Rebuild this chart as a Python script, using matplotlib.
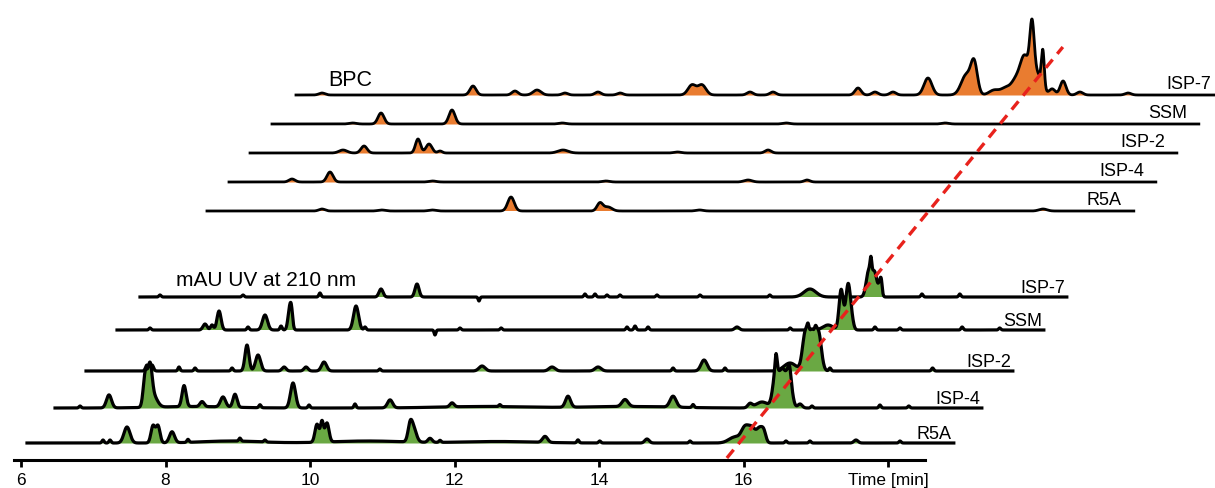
"""Stacked BPC / UV-210 nm chromatograms of five samples, staggered in x and y."""

import matplotlib
matplotlib.use("Agg")
import matplotlib.pyplot as plt
import numpy as np

plt.rcParams["font.family"] = ["Liberation Sans", "DejaVu Sans"]

SAMPLES = ["R5A", "ISP-4", "ISP-2", "SSM", "ISP-7"]   # front -> back

# peaks: (retention time [min], height, sigma [min])
UV_R5A = [
    (7.135, 3, 0.015), (7.232, 3, 0.015), (7.467, 16, 0.042), (7.827, 17, 0.028),
    (7.896, 17, 0.028), (8.090, 11, 0.035), (8.311, 3, 0.015), (8.9, 2, 0.4),
    (9.03, 3, 0.015), (9.377, 2, 0.015), (10.097, 18, 0.028), (10.166, 20, 0.021),
    (10.235, 19, 0.028), (10.8, 2, 0.5), (11.384, 12, 0.028), (11.426, 15, 0.042),
    (11.661, 4, 0.028), (11.80, 2, 0.015), (12.6, 1.5, 0.5), (13.253, 6, 0.035),
    (13.709, 3, 0.015), (14.01, 2, 0.015), (14.664, 4, 0.03), (15.26, 2, 0.015),
    (15.882, 6, 0.083), (16.021, 14, 0.05), (16.118, 14, 0.05), (16.228, 14, 0.042),
    (16.284, 8, 0.028), (16.588, 2, 0.015), (16.92, 2, 0.015), (17.557, 3, 0.028),
    (18.166, 2, 0.015),
]
UV_ISP4 = [
    (6.429, 2, 0.015), (6.830, 13, 0.035), (7.333, 33, 0.028), (7.398, 34, 0.028),
    (7.44, 12, 0.055), (7.869, 21, 0.028), (8.0, 1.5, 0.5), (8.118, 5, 0.028),
    (8.408, 10, 0.035), (8.574, 13, 0.028), (8.92, 3, 0.015), (9.377, 25, 0.035),
    (9.599, 3, 0.015), (10.235, 4, 0.015), (10.72, 8, 0.035), (11.578, 4, 0.028),
    (12.0, 1.5, 0.6), (12.24, 2, 0.015), (13.183, 11, 0.035), (13.972, 7, 0.042),
    (14.0, 1.5, 0.6), (14.637, 11, 0.042), (14.914, 3, 0.015), (15.702, 4, 0.03),
    (15.869, 6, 0.083), (16.06, 36, 0.04), (16.15, 34, 0.04), (16.24, 36, 0.04),
    (16.062, 15, 0.014), (16.25, 6, 0.014), (16.394, 4, 0.03), (16.56, 2, 0.015),
    (17.5, 3, 0.015), (17.9, 2, 0.015),
]
UV_ISP2 = [
    (6.927, 6, 0.02), (6.997, 6, 0.02), (7.370, 4, 0.015), (7.592, 3, 0.015),
    (8.104, 3, 0.015), (8.311, 26, 0.028), (8.464, 16, 0.035), (8.824, 4, 0.028),
    (9.128, 4, 0.028), (9.377, 9, 0.035), (10.15, 2, 0.015), (11.564, 5, 0.042),
    (12.533, 4, 0.042), (13.170, 4, 0.042), (14.208, 3, 0.015), (14.637, 11, 0.042),
    (14.927, 3, 0.015), (15.827, 8, 0.083), (16.04, 38, 0.04), (16.13, 36, 0.04),
    (16.22, 38, 0.04), (16.076, 8, 0.014), (16.18, 6, 0.014), (16.38, 3, 0.015),
    (17.8, 3, 0.015),
]
UV_SSM = [
    (6.54, 2, 0.015), (7.301, 6, 0.028), (7.398, 5, 0.02), (7.495, 19, 0.028),
    (7.896, 3, 0.015), (8.131, 15, 0.035), (8.353, 4, 0.015), (8.477, 24, 0.025),
    (8.50, 8, 0.015), (9.391, 24, 0.035), (9.516, 3, 0.015), (10.484, -5, 0.012),
    (10.83, 2, 0.015), (11.4, 2, 0.015), (13.142, 3, 0.015), (13.253, 4, 0.015),
    (13.433, 3, 0.015), (14.664, 3, 0.03), (15.4, 2, 0.015), (15.924, 5, 0.07),
    (16.104, 38, 0.028), (16.159, 8, 0.035), (16.201, 38, 0.028), (16.243, 14, 0.028),
    (16.574, 3, 0.015), (16.92, 2, 0.015), (17.78, 3, 0.015), (18.3, 2, 0.015),
]
UV_ISP7 = [
    (6.36, 2, 0.015), (7.509, 2, 0.015), (8.574, 4, 0.015), (9.419, 8, 0.028),
    (9.917, 13, 0.028), (10.775, -4, 0.012), (12.242, 3, 0.015), (12.381, 3, 0.015),
    (12.547, 2, 0.015), (12.727, 2, 0.015), (13.239, 2, 0.015), (13.834, 2, 0.015),
    (14.8, 2, 0.015), (15.356, 8, 0.083), (16.17, 26, 0.035), (16.25, 24, 0.035),
    (16.33, 16, 0.02), (16.2, 14, 0.012), (16.345, 5, 0.01), (16.906, 3, 0.015),
    (17.43, 3, 0.015),
]

BPC_R5A = [
    (7.675, 2, 0.042), (8.5, 1, 0.05), (9.2, 1, 0.05), (10.291, 14, 0.045),
    (11.522, 8, 0.04), (11.633, 4, 0.055), (12.9, 1, 0.05), (17.654, 2, 0.055),
]
BPC_ISP4 = [
    (6.955, 3, 0.042), (7.481, 10, 0.042), (8.9, 1, 0.05), (11.3, 1, 0.05),
    (13.266, 2, 0.055), (14.083, 2, 0.04),
]
BPC_ISP2 = [
    (7.370, 3, 0.055), (7.661, 7, 0.042), (8.408, 14, 0.035), (8.560, 9, 0.042),
    (8.713, 2, 0.03), (10.415, 3, 0.07), (12.0, 1, 0.05), (13.253, 3, 0.042),
]
BPC_SSM = [(7.2, 1, 0.05), (7.592, 11, 0.042), (8.574, 14, 0.042), (10.1, 1, 0.05),
           (13.2, 1, 0.05), (15.4, 1, 0.05)]
BPC_ISP7 = [
    (6.443, 2, 0.042), (8.533, 9, 0.042), (9.114, 4, 0.042), (9.419, 5, 0.055),
    (9.806, 2, 0.04), (10.263, 3, 0.042), (10.57, 2, 0.04), (11.564, 10, 0.055),
    (11.702, 10, 0.055), (12.367, 3, 0.042), (12.685, 3, 0.042), (13.862, 7, 0.042),
    (14.097, 3, 0.042), (14.346, 3, 0.042), (14.830, 17, 0.055), (15.36, 20, 0.07),
    (15.47, 30, 0.045), (15.75, 5, 0.07), (15.90, 6, 0.06), (16.05, 15, 0.07),
    (16.17, 35, 0.06), (16.27, 52, 0.03), (16.33, 22, 0.07), (16.42, 36, 0.02),
    (16.55, 6, 0.04), (16.70, 14, 0.04), (16.933, 3, 0.042), (17.6, 2, 0.042),
]

UV_PEAKS = [UV_R5A, UV_ISP4, UV_ISP2, UV_SSM, UV_ISP7]
BPC_PEAKS = [BPC_R5A, BPC_ISP4, BPC_ISP2, BPC_SSM, BPC_ISP7]

# staggering of the stacked traces (x shift in min, baseline height)
UV_SHIFT = [0.0, 0.388, 0.817, 1.246, 1.564]
UV_BASE = [17, 52, 89, 130, 163]
BPC_SHIFT = [2.491, 2.796, 3.087, 3.391, 3.723]
BPC_BASE = [249, 278, 307, 336, 365]

GUIDE_T = [15.77, 20.42]   # red dashed guide through the shifted main peak
GUIDE_Y = [2, 413]

XTICKS = [6, 8, 10, 12, 14, 16, 18]
XTICKLABELS = ["6", "8", "10", "12", "14", "16", "Time [min]"]

GREEN = "#6aa843"
ORANGE = "#e97c30"


def signal(t, peaks):
    y = np.zeros_like(t)
    for rt, h, s in peaks:
        y += h * np.exp(-0.5 * ((t - rt) / s) ** 2)
    return y


def main():
    fig = plt.figure(figsize=(12.15, 4.88), dpi=100)
    ax = fig.add_axes([0, 28 / 488, 1, 1 - 28 / 488])
    ax.set_xlim(6 - 21 / 72.25, 6 + 1194 / 72.25)
    ax.set_ylim(0, 460)

    t = np.arange(6.083, 18.913, 0.004)
    z = 10
    # back traces first so the front ones cover them
    for groups in [(BPC_PEAKS, BPC_SHIFT, BPC_BASE, ORANGE, 2.0, -12, 2),
                   (UV_PEAKS, UV_SHIFT, UV_BASE, GREEN, 2.3, -2, 0)]:
        peaks_l, shifts, bases, col, lw, lab_dx, lab_dy = groups
        for i in reversed(range(len(SAMPLES))):
            y = signal(t, peaks_l[i])
            x = t + shifts[i]
            b = bases[i]
            ax.fill_between(x, b, b + y, where=y > 0, color="white", lw=0, zorder=z)
            ax.fill_between(x, b, b + y, where=y > 0, color=col, lw=0, zorder=z + 0.1)
            ax.plot(x, b + y, color="black", lw=lw, solid_joinstyle="round", zorder=z + 0.2)
            ax.text(x[-1] + lab_dx / 72.25, b + lab_dy, SAMPLES[i], ha="right", va="bottom",
                    fontsize=13, zorder=z + 0.3)
            z += 1

    ax.plot(GUIDE_T, GUIDE_Y, color="#e8221c", lw=2.4, ls=(0, (3.2, 2.2)), zorder=40)

    ax.text(6 + (350 - 21) / 72.25, 380, "BPC", ha="center", va="center", fontsize=15.5)
    ax.text(6 + (266 - 21) / 72.25, 180, "mAU UV at 210 nm", ha="center", va="center",
            fontsize=15)

    for s in ["top", "right", "left"]:
        ax.spines[s].set_visible(False)
    ax.spines["bottom"].set_linewidth(2.2)
    ax.spines["bottom"].set_bounds(5.9, 18.51)
    ax.set_yticks([])
    ax.set_xticks(XTICKS)
    ax.set_xticklabels(XTICKLABELS)
    ax.tick_params(axis="x", length=5, width=2, pad=4.5, labelsize=12.5)

    fig.savefig("out.png", dpi=100)


if __name__ == "__main__":
    main()
